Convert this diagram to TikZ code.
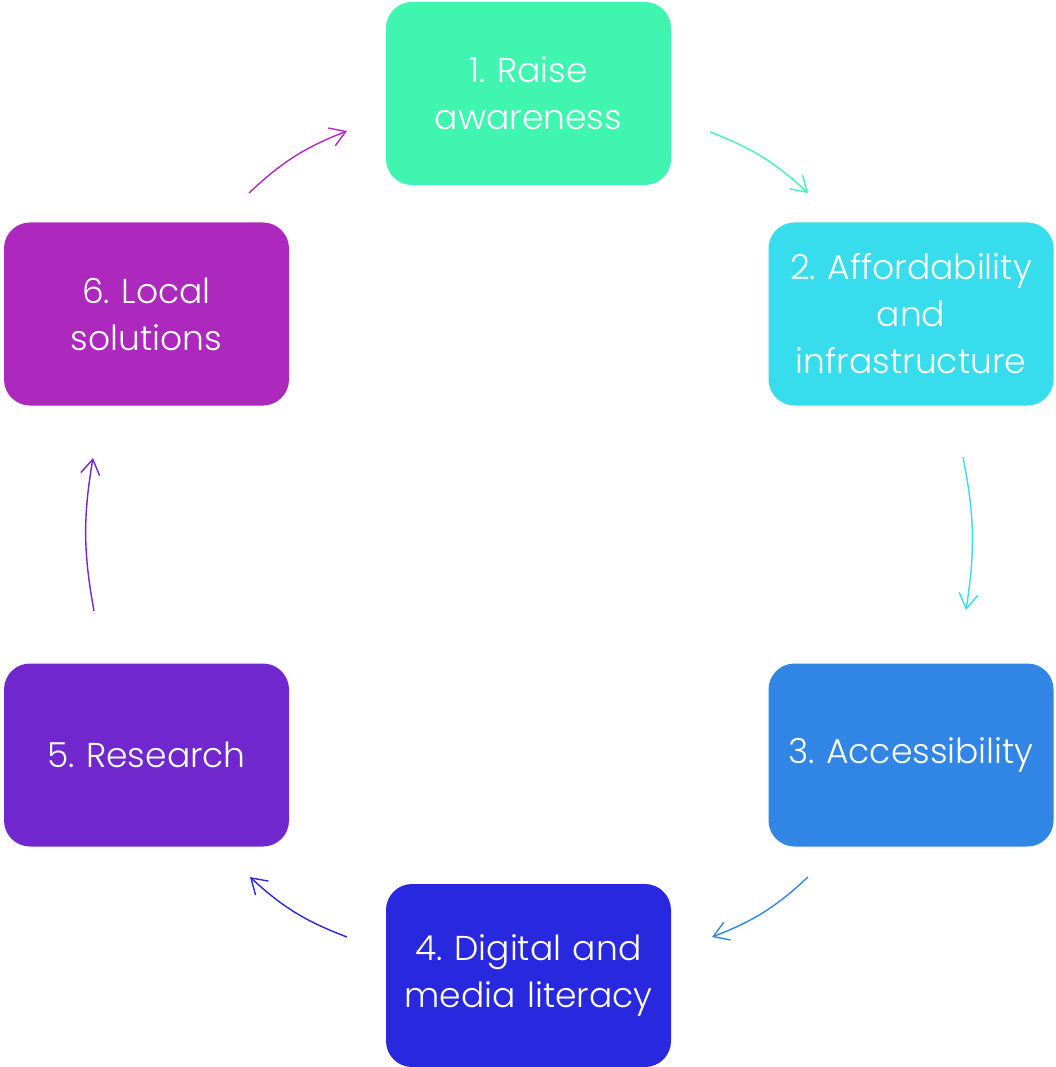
\documentclass[tikz,border=0pt]{standalone}
\usepackage{fontspec}
\setmainfont{Poppins}[UprightFont={* Light}]
\usetikzlibrary{arrows.meta}
\frenchspacing
\definecolor{stepA}{HTML}{3FF5B0}
\definecolor{stepB}{HTML}{37DDEC}
\definecolor{stepC}{HTML}{3085E5}
\definecolor{stepD}{HTML}{2829DE}
\definecolor{stepE}{HTML}{7027CE}
\definecolor{stepF}{HTML}{AD29BE}
\newcommand{\bw}{285}
\newcommand{\bh}{183}
\tikzset{
  stepbox/.style={draw=none,fill=#1,rounded corners=26pt,minimum width=\bw pt,
    minimum height=\bh pt,inner sep=0pt,text width=276pt,align=center,
    text=white,font=\fontsize{34.5}{47}\selectfont},
  cyc/.style={draw=#1,line width=1.4pt,-{Straight Barb[length=15pt,width=19pt]}}
}
\begin{document}
\begin{tikzpicture}[x=1pt,y=1pt]
\useasboundingbox (0,0) rectangle (1056,-1067);
% boxes
\node[stepbox=stepA] (s1) at (528.5,-93.5) {1. Raise\\awareness};
\node[stepbox=stepB] (s2) at (911,-314) {2. Affordability\\and\\infrastructure};
\node[stepbox=stepC] (s3) at (911,-755) {3. Accessibility};
\node[stepbox=stepD] (s4) at (528.5,-975.5) {4. Digital and\\media literacy};
\node[stepbox=stepE] (s5) at (146.5,-755) {5. Research};
\node[stepbox=stepF] (s6) at (146.5,-314) {6. Local\\solutions};
% arrow ends
\coordinate (a1) at (710,-132);
\coordinate (b1) at (808,-193);
\coordinate (a2) at (963,-457);
\coordinate (b2) at (966,-610);
\coordinate (a3) at (808,-877);
\coordinate (b3) at (712,-937);
\coordinate (a4) at (347,-937);
\coordinate (b4) at (250,-877);
\coordinate (a5) at (94,-611);
\coordinate (b5) at (93,-458);
\coordinate (a6) at (249,-193);
\coordinate (b6) at (347,-131);
\draw[cyc=stepA] (a1) to[bend left=11] (b1);
\draw[cyc=stepB] (a2) to[bend left=10] (b2);
\draw[cyc=stepC] (a3) to[bend left=11] (b3);
\draw[cyc=stepD] (a4) to[bend left=11] (b4);
\draw[cyc=stepE] (a5) to[bend left=10] (b5);
\draw[cyc=stepF] (a6) to[bend left=11] (b6);
\end{tikzpicture}
\end{document}
